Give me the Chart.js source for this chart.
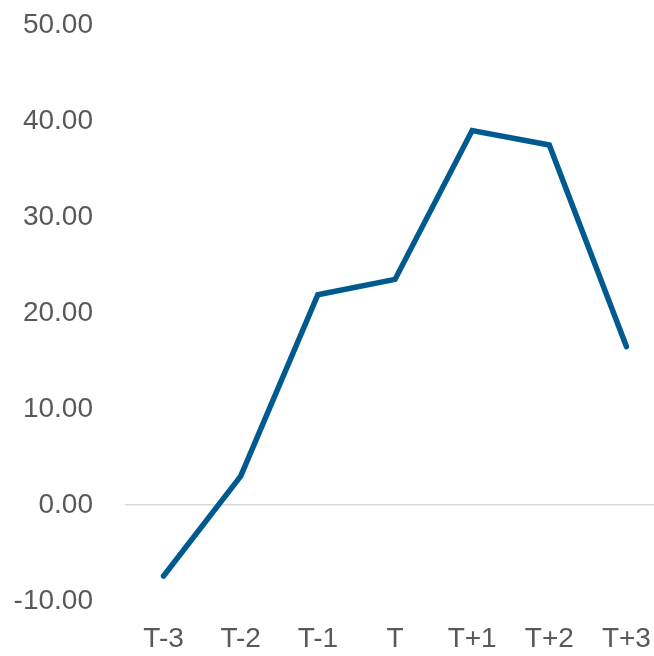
<!DOCTYPE html>
<html>
<head>
<meta charset="utf-8">
<script src="https://cdn.jsdelivr.net/npm/chart.js@4/dist/chart.umd.min.js"></script>
<style>
html,body{margin:0;padding:0;overflow:hidden;background:#fff;}
#wrap{width:654px;height:656px;overflow:hidden;position:relative;}
#c{display:block;}
</style>
</head>
<body>
<div id="wrap"><canvas id="c" width="665" height="656" style="width:665px;height:656px"></canvas></div>
<script>
const categories = ["T-3","T-2","T-1","T","T+1","T+2","T+3"];
const values = [-7.4, 3.0, 21.9, 23.5, 39.0, 37.5, 16.5];
const yMin = -10, yMax = 50, yStep = 10;

new Chart(document.getElementById('c'), {
  type: 'line',
  data: {
    labels: categories,
    datasets: [{
      data: values,
      borderColor: '#005A8F',
      borderWidth: 5.5,
      pointRadius: 0,
      tension: 0,
      fill: false,
      borderCapStyle: 'round',
      borderJoinStyle: 'miter'
    }]
  },
  options: {
    responsive: false,
    animation: false,
    layout: {padding: {top: 25, left: 0, right: 0, bottom: 0}},
    plugins: {legend: {display: false}, tooltip: {enabled: false}},
    scales: {
      x: {
        offset: true,
        border: {display: false},
        grid: {display: false, drawTicks: false},
        ticks: {color: '#595959', font: {family: 'Liberation Sans', size: 28}, padding: 21, maxRotation: 0, autoSkip: false},
        afterFit: s => { s.height = 55; s.paddingLeft = 0; s.paddingRight = 0; }
      },
      y: {
        min: yMin, max: yMax,
        border: {display: false},
        grid: {
          drawTicks: false,
          color: ctx => ctx.tick && ctx.tick.value === 0 ? '#d9d9d9' : 'rgba(0,0,0,0)',
          lineWidth: 1.5
        },
        ticks: {
          stepSize: yStep,
          color: '#595959',
          font: {family: 'Liberation Sans', size: 28},
          padding: 32,
          callback: v => v.toFixed(2)
        },
        afterFit: s => { s.width = 125; s.paddingTop = 0; s.paddingBottom = 0; }
      }
    }
  }
});
</script>
</body>
</html>
